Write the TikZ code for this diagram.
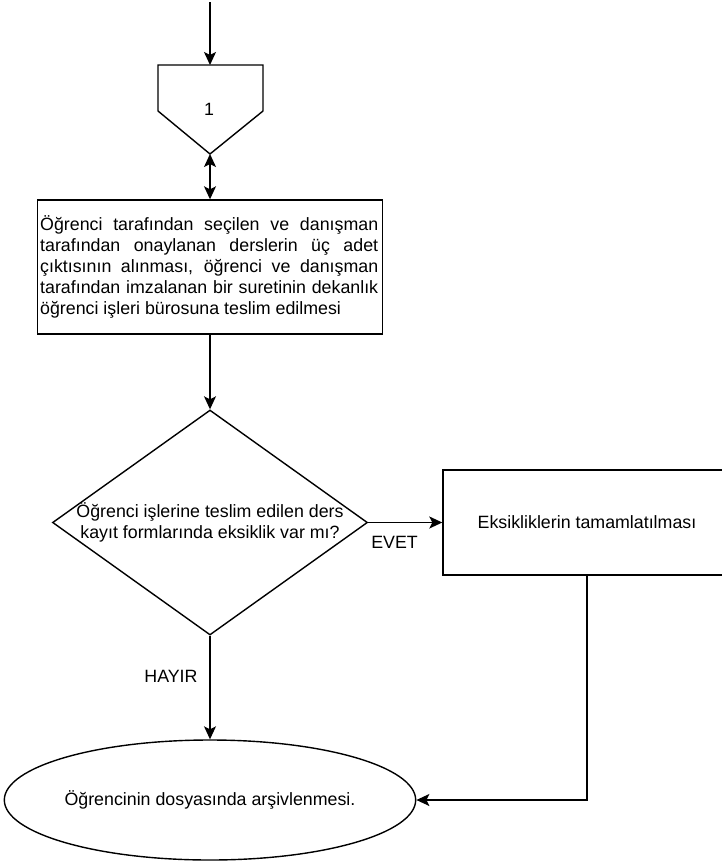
\documentclass[tikz,border=0pt]{standalone}
\usepackage{fontspec}
\setmainfont{Liberation Sans}
\usetikzlibrary{arrows.meta,shapes.geometric}
\begin{document}
\begin{tikzpicture}[x=1bp,y=-1bp,
  line/.style={draw=black,line width=1.4bp},
  tip/.tip={Stealth[length=13bp,width=12bp,inset=3bp]},
  arr/.style={line,-tip},
  lbl/.style={font=\fontsize{17.8bp}{21bp}\selectfont,inner sep=0pt},
  box/.style={line,rectangle,inner sep=0pt,font=\fontsize{17.8bp}{21bp}\selectfont}]
\useasboundingbox (0,0) rectangle (722,863);
% off-page connector shape
\coordinate (start) at (210,2);
\coordinate (ptop) at (210,65);
\coordinate (ptip) at (210,154);
\draw[line] (158,65) -- (263,65) -- (263,111) -- (ptip) -- (158,111) -- cycle;
\node[lbl] (p1) at (209,109) {1};
% process box
\node[box,minimum width=345bp,minimum height=134bp] (r1) at (210,267) {};
\node[lbl,anchor=west,align=left] (r1t) at (40,267) {%
\makebox[338bp][s]{Öğrenci tarafından seçilen ve danışman}\\
\makebox[338bp][s]{tarafından onaylanan derslerin üç adet}\\
\makebox[338bp][s]{çıktısının alınması, öğrenci ve danışman}\\
\makebox[338bp][s]{tarafından imzalanan bir suretinin dekanlık}\\
öğrenci işleri bürosuna teslim edilmesi};
% decision
\node[line,diamond,minimum width=315bp,minimum height=225bp,inner sep=0pt] (d) at (210,522.5) {};
\node[lbl,align=center] (dt) at (210,522) {Öğrenci işlerine teslim edilen ders\\kayıt formlarında eksiklik var mı?};
% right box
\node[box,minimum width=288bp,minimum height=105bp] (e) at (587,522.5) {Eksikliklerin tamamlatılması};
% terminal
\node[line,ellipse,minimum width=406bp,minimum height=120bp,inner sep=0pt,font=\fontsize{17.8bp}{21bp}\selectfont] (f) at (210,800) {Öğrencinin dosyasında arşivlenmesi.};
% labels
\node[lbl] (evet) at (394.5,542) {EVET};
\node[lbl] (hayir) at (171,676) {HAYIR};
% connectors
\draw[arr] (start) -- (ptop);
\draw[line,tip-tip] (ptip) -- (r1.north);
\draw[arr] (r1.south) -- (d.north);
\draw[arr] (d.east) -- (e.west);
\draw[arr] (d.south) -- (f.north);
\draw[arr] (e.south) |- (f.east);
\end{tikzpicture}
\end{document}
